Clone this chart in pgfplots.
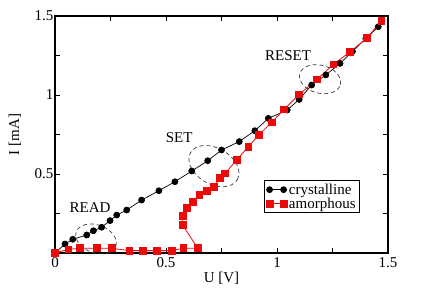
\documentclass[border=0pt]{standalone}
\usepackage{fontspec}
\setmainfont{Liberation Serif}
\usepackage{pgfplots}
\pgfplotsset{compat=1.18}
\newcommand\fs{\fontsize{15}{17}\selectfont}
\definecolor{ampred}{RGB}{235,10,10}
\definecolor{ringgray}{RGB}{60,60,60}
\begin{document}
\begin{tikzpicture}
\begin{axis}[
  scale only axis,
  width=333pt, height=237pt,
  xmin=0, xmax=1.5, ymin=0, ymax=1.5,
  axis line style={line width=1.1pt},
  tick style={line width=0.8pt, black},
  tick align=inside,
  major tick length=5pt,
  xtick={0,0.25,...,1.5},
  xticklabels={0,,0.5,,1,,1.5},
  ytick={0,0.25,...,1.5},
  yticklabels={,,0.5,,1,,1.5},
  tick label style={font=\fs},
  yticklabel style={xshift=2pt},
  xticklabel style={yshift=-1pt},
  xlabel={U [V]}, ylabel={I [mA]},
  label style={font=\fs},
  xlabel style={at={(axis description cs:0.5,-0.105)}, anchor=center},
  ylabel style={at={(axis description cs:-0.12,0.5)}, anchor=center},
  legend style={font=\fs, at={(0.916,0.169)}, anchor=south east,
    draw=black, line width=0.8pt, inner xsep=2pt, inner ysep=1pt,
    row sep=-2pt},
  legend cell align=left,
  legend image code/.code={\draw[mark repeat=1,mark phase=1,#1]
    plot coordinates {(0pt,0pt) (14pt,0pt)};},
]
% crystalline state: nearly ohmic branch
\addplot[black, line width=0.7pt, mark=*, mark size=3pt,
  mark options={solid}] coordinates {
  (0,0) (0.045,0.057) (0.08,0.087) (0.143,0.114) (0.173,0.141)
  (0.21,0.163) (0.248,0.205) (0.278,0.24) (0.323,0.272) (0.39,0.335)
  (0.468,0.394) (0.54,0.451) (0.616,0.519) (0.688,0.584) (0.75,0.652)
  (0.83,0.705) (0.90,0.774) (0.961,0.852) (1.046,0.905) (1.10,0.972)
  (1.156,1.063) (1.22,1.127) (1.284,1.20) (1.34,1.276) (1.40,1.357)
  (1.456,1.432)};
\addlegendentry{crystalline}
% amorphous state: threshold switching with snap-back
\addplot[ampred, line width=0.8pt, mark=square*, mark size=3.4pt,
  mark options={solid}] coordinates {
  (0,0) (0.06,0.023) (0.113,0.03) (0.19,0.03) (0.255,0.03)
  (0.335,0.015) (0.395,0.015) (0.458,0.015) (0.525,0.015)
  (0.578,0.03) (0.643,0.03)
  (0.575,0.177) (0.575,0.236) (0.593,0.283) (0.62,0.325) (0.65,0.367)
  (0.683,0.392) (0.716,0.42) (0.743,0.473) (0.766,0.504) (0.818,0.589)
  (0.871,0.673) (0.92,0.75) (0.976,0.827) (1.032,0.909) (1.10,1.004)
  (1.18,1.099) (1.254,1.194) (1.33,1.274) (1.404,1.359) (1.47,1.47)};
\addlegendentry{amorphous}
% operating regions
\draw[ringgray, dashed, dash pattern=on 4pt off 3pt, line width=0.7pt]
  (axis cs:0.185,0.089) ellipse [x radius=21pt, y radius=14pt, rotate=-20];
\draw[ringgray, dashed, dash pattern=on 4pt off 3pt, line width=0.7pt]
  (axis cs:0.716,0.55) ellipse [x radius=27pt, y radius=18pt, rotate=-30];
\draw[ringgray, dashed, dash pattern=on 4pt off 3pt, line width=0.7pt]
  (axis cs:1.194,1.10) ellipse [x radius=21pt, y radius=14pt, rotate=-15];
\node[font=\fs] at (axis cs:0.158,0.285) {READ};
\node[font=\fs] at (axis cs:0.559,0.728) {SET};
\node[font=\fs] at (axis cs:1.05,1.25) {RESET};
\end{axis}
\path (current axis.south west) ++(-55pt,-40pt) rectangle ++(427pt,293pt);
\end{tikzpicture}
\end{document}
